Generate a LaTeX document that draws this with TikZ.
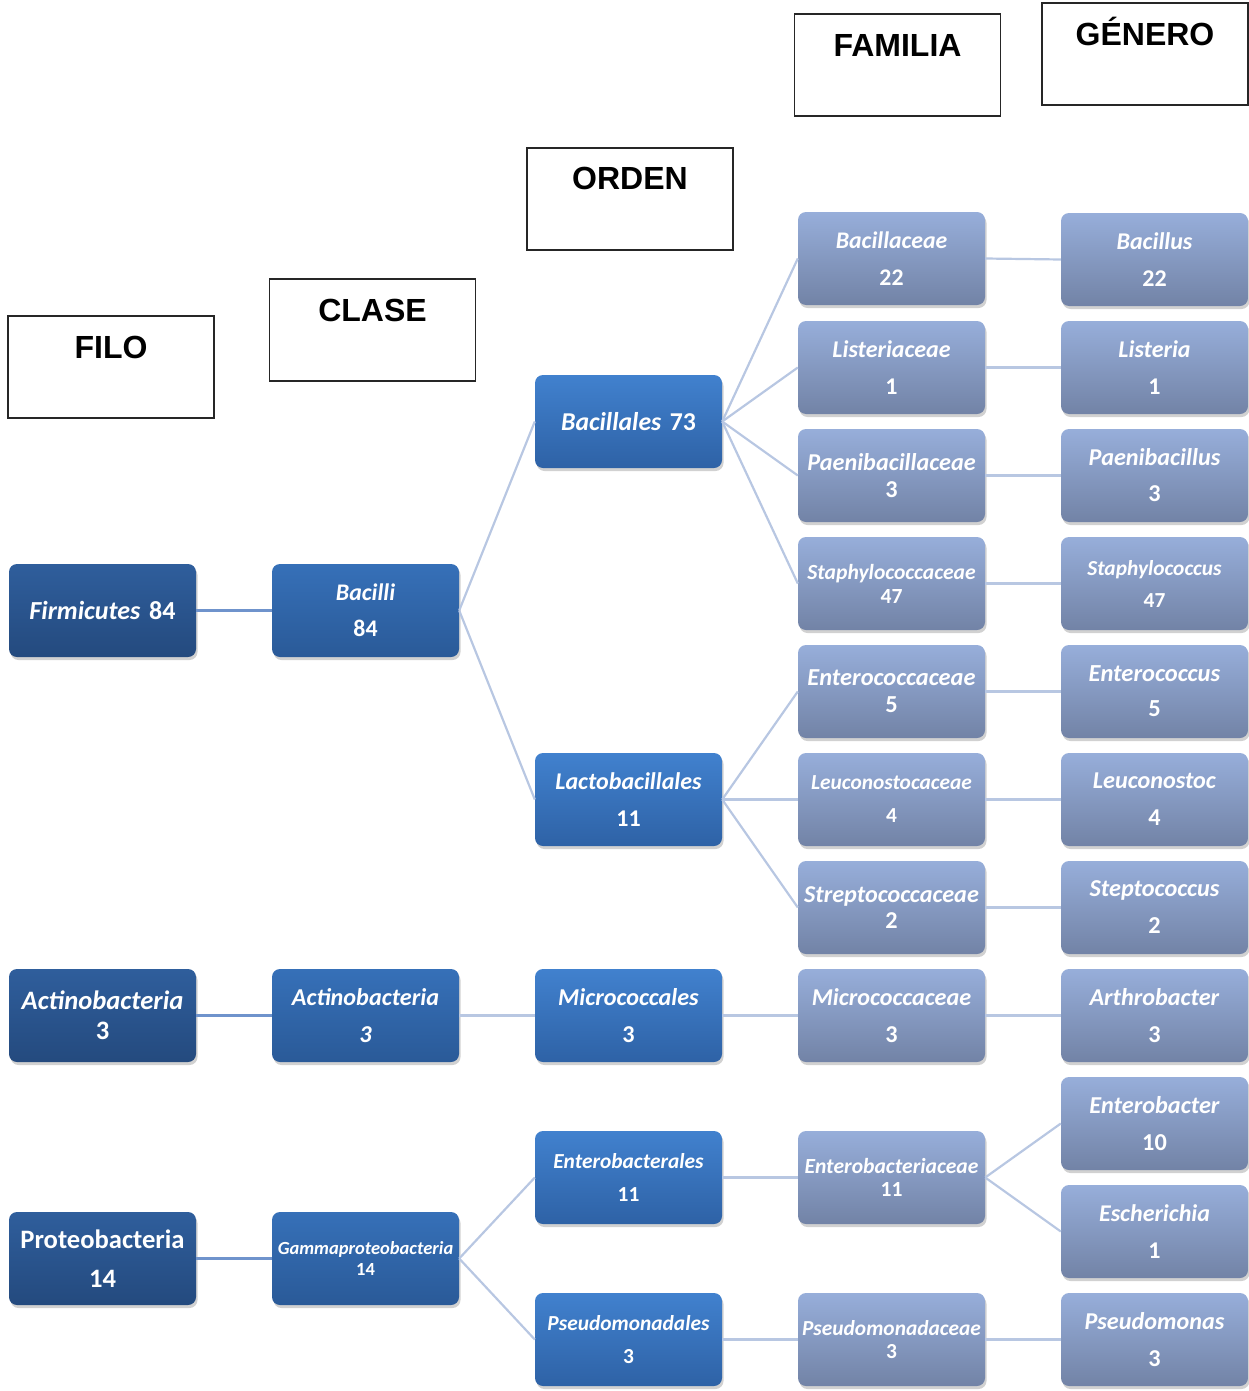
\documentclass[tikz,border=0pt]{standalone}
\usepackage{fontspec}
\setmainfont{Carlito}
\newfontfamily\hdrfont{Liberation Sans}
\usetikzlibrary{shadows}
\newcommand\setfs[2]{\fontsize{#1}{#2}\selectfont}
\definecolor{dAt}{HTML}{2F5E9C}\definecolor{dAb}{HTML}{244A7E}
\definecolor{dBt}{HTML}{3670B8}\definecolor{dBb}{HTML}{2A5A98}
\definecolor{dCt}{HTML}{4181CE}\definecolor{dCb}{HTML}{2E62A6}
\definecolor{lgt}{HTML}{97AEDA}\definecolor{lgb}{HTML}{7283A6}
\definecolor{lnA}{HTML}{6F93CC}\definecolor{lnB}{HTML}{B8C7E2}
\tikzset{
  bx/.style={rounded corners=8pt, minimum width=187pt, minimum height=93pt,
    inner sep=0pt, text width=185pt, align=center, text=white, font=\bfseries,
    drop shadow={shadow xshift=1.5pt, shadow yshift=-3pt, opacity=0.3, fill=black!60}},
  colA/.style={bx, top color=dAt, bottom color=dAb},
  colB/.style={bx, top color=dBt, bottom color=dBb},
  colC/.style={bx, top color=dCt, bottom color=dCb},
  colL/.style={bx, top color=lgt, bottom color=lgb},
  hdr/.style={draw=black!85, line width=1.2pt, minimum width=206pt, minimum height=102pt, inner sep=0pt},
  hdrtxt/.style={font=\hdrfont\bfseries\fontsize{32}{36}\selectfont, anchor=base},
  cA/.style={draw=lnA, line width=2.6pt},
  cB/.style={draw=lnB, line width=2.2pt}
}
\begin{document}
\begin{tikzpicture}[x=1pt,y=-1pt]
\useasboundingbox (0,0) rectangle (1249,1391);
% headers
\node[hdr] (hFilo) at (111,367) {};
\node[hdrtxt] (tFilo) at (111,358.5) {FILO};
\node[hdr] (hClase) at (372.5,330) {};
\node[hdrtxt] (tClase) at (372.5,321.5) {CLASE};
\node[hdr] (hOrden) at (630,199) {};
\node[hdrtxt] (tOrden) at (630,189.5) {ORDEN};
\node[hdr] (hFam) at (897.5,65) {};
\node[hdrtxt] (tFam) at (897.5,56.5) {FAMILIA};
\node[hdr] (hGen) at (1145,54) {};
\node[hdrtxt] (tGen) at (1145,45.5) {GÉNERO};
% column 1
\node[colA, font=\bfseries\setfs{26}{28}] (firm) at (102.5,610.5) {\textit{Firmicutes} 84};
\node[colA, font=\bfseries\setfs{26.6}{30}] (act1) at (102.5,1015.5) {\textit{Actinobacteria}\\3};
\node[colA, font=\bfseries\setfs{26.6}{39}] (prot) at (102.5,1258.5) {Proteobacteria\\14};
% column 2
\node[colB, font=\bfseries\setfs{23.8}{36}] (baci) at (365.5,610.5) {\textit{Bacilli}\\84};
\node[colB, font=\bfseries\setfs{24.2}{37}] (act2) at (365.5,1015.5) {\textit{Actinobacteria}\\\textit{3}};
\node[colB, font=\bfseries\setfs{18.5}{21}] (gamma) at (365.5,1258.5) {\textit{Gammaproteobacteria}\\14};
% column 3
\node[colC, font=\bfseries\setfs{25.7}{28}] (bacl) at (628.5,421.5) {\textit{Bacillales} 73};
\node[colC, font=\bfseries\setfs{24}{37}] (lact) at (628.5,799.5) {\textit{Lactobacillales}\\11};
\node[colC, font=\bfseries\setfs{24.2}{37}] (micl) at (628.5,1015.5) {\textit{Micrococcales}\\3};
\node[colC, font=\bfseries\setfs{21.4}{33}] (entl) at (628.5,1177.5) {\textit{Enterobacterales}\\11};
\node[colC, font=\bfseries\setfs{21.4}{33}] (psel) at (628.5,1339.5) {\textit{Pseudomonadales}\\3};
% column 4
\node[colL, font=\bfseries\setfs{23.8}{37}] (f1) at (891.5,258.5) {\textit{Bacillaceae}\\22};
\node[colL, font=\bfseries\setfs{24}{37}] (f2) at (891.5,367.5) {\textit{Listeriaceae}\\1};
\node[colL, font=\bfseries\setfs{24.2}{27}] (f3) at (891.5,475.5) {\textit{Paenibacillaceae}\\3};
\node[colL, font=\bfseries\setfs{21.6}{24}] (f4) at (891.5,583.5) {\textit{Staphylococcaceae}\\47};
\node[colL, font=\bfseries\setfs{24.4}{27}] (f5) at (891.5,691.5) {\textit{Enterococcaceae}\\5};
\node[colL, font=\bfseries\setfs{21.4}{33}] (f6) at (891.5,799.5) {\textit{Leuconostocaceae}\\4};
\node[colL, font=\bfseries\setfs{24.2}{26}] (f7) at (891.5,907.5) {\textit{Streptococcaceae}\\2};
\node[colL, font=\bfseries\setfs{24.2}{37}] (f8) at (891.5,1015.5) {\textit{Micrococcaceae}\\3};
\node[colL, font=\bfseries\setfs{21.6}{23}] (f9) at (891.5,1177.5) {\textit{Enterobacteriaceae}\\11};
\node[colL, font=\bfseries\setfs{21.4}{23}] (f10) at (891.5,1339.5) {\textit{Pseudomonadaceae}\\3};
% column 5
\node[colL, font=\bfseries\setfs{24}{37}] (g1) at (1154.5,259.5) {\textit{Bacillus}\\22};
\node[colL, font=\bfseries\setfs{24}{37}] (g2) at (1154.5,367.5) {\textit{Listeria}\\1};
\node[colL, font=\bfseries\setfs{24.2}{36}] (g3) at (1154.5,475.5) {\textit{Paenibacillus}\\3};
\node[colL, font=\bfseries\setfs{21.4}{32}] (g4) at (1154.5,583.5) {\textit{Staphylococcus}\\47};
\node[colL, font=\bfseries\setfs{24.5}{35}] (g5) at (1154.5,691.5) {\textit{Enterococcus}\\5};
\node[colL, font=\bfseries\setfs{24.2}{37}] (g6) at (1154.5,799.5) {\textit{Leuconostoc}\\4};
\node[colL, font=\bfseries\setfs{24.3}{37}] (g7) at (1154.5,907.5) {\textit{Steptococcus}\\2};
\node[colL, font=\bfseries\setfs{24.2}{37}] (g8) at (1154.5,1015.5) {\textit{Arthrobacter}\\3};
\node[colL, font=\bfseries\setfs{24.3}{37}] (g9) at (1154.5,1123.5) {\textit{Enterobacter}\\10};
\node[colL, font=\bfseries\setfs{24}{37}] (g10) at (1154.5,1231.5) {\textit{Escherichia}\\1};
\node[colL, font=\bfseries\setfs{24.2}{37}] (g11) at (1154.5,1339.5) {\textit{Pseudomonas}\\3};
% connectors
\draw[cA] (firm.east) -- (baci.west);
\draw[cA] (act1.east) -- (act2.west);
\draw[cA] (prot.east) -- (gamma.west);
\draw[cB] (baci.east) -- (bacl.west);
\draw[cB] (baci.east) -- (lact.west);
\draw[cB] (act2.east) -- (micl.west);
\draw[cB] (gamma.east) -- (entl.west);
\draw[cB] (gamma.east) -- (psel.west);
\foreach \f in {f1,f2,f3,f4}{\draw[cB] (bacl.east) -- (\f.west);}
\foreach \f in {f5,f6,f7}{\draw[cB] (lact.east) -- (\f.west);}
\draw[cB] (micl.east) -- (f8.west);
\draw[cB] (entl.east) -- (f9.west);
\draw[cB] (psel.east) -- (f10.west);
\foreach \i in {1,...,8}{\draw[cB] (f\i.east) -- (g\i.west);}
\draw[cB] (f9.east) -- (g9.west);
\draw[cB] (f9.east) -- (g10.west);
\draw[cB] (f10.east) -- (g11.west);
\end{tikzpicture}
\end{document}
